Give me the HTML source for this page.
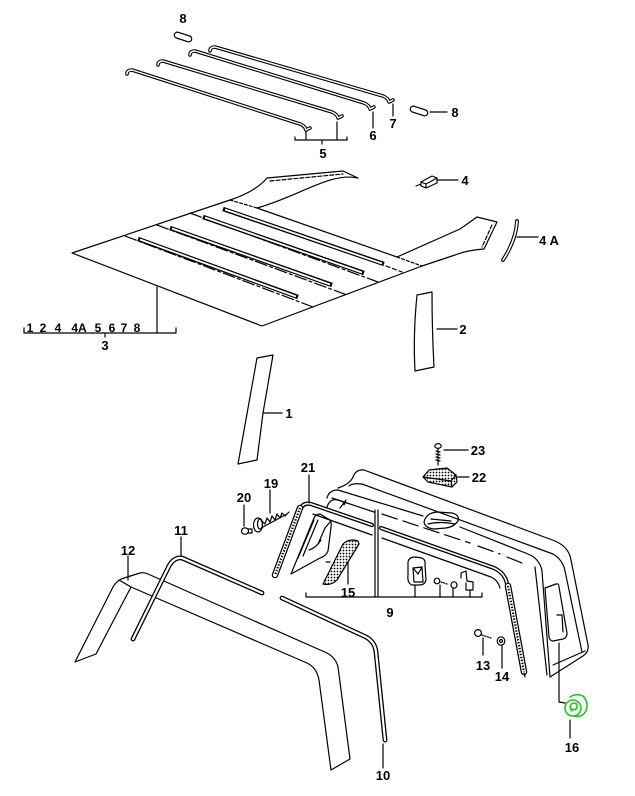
<!DOCTYPE html>
<html><head><meta charset="utf-8">
<style>
html,body{margin:0;padding:0;background:#fff;}
svg{display:block;}
text{font-family:"Liberation Sans",Arial,sans-serif;font-weight:bold;font-size:13px;fill:#000;}
.s{font-size:12px;}
</style></head><body>
<svg width="635" height="796" viewBox="0 0 635 796" xmlns="http://www.w3.org/2000/svg">
<defs>
<pattern id="dots" width="3" height="3" patternUnits="userSpaceOnUse">
<rect width="3" height="3" fill="#fff"/>
<circle cx="1.5" cy="1.5" r="0.9" fill="#000"/>
</pattern>
<path id="r7" d="M210,51 Q210,47 215,47 L383,96 Q388,98 389,102 L393,100"/>
<path id="r6" d="M190,55 Q190,51 195,51 L364,103 Q369,105 370,109 L374,107"/>
<path id="r5a" d="M158,65 Q158,61 163,61 L332,112 Q337,114 338,118 L342,116"/>
<path id="r5b" d="M127,74 Q127,70 132,70 L300,124 Q305,126 306,130 L310,128"/>
<path id="seal" d="M300,510 Q303,502 311,504 L372,525 M381,528 L494,568 Q505,573 507,584"/>
<path id="p11" d="M133,639 L169,566 Q174,557 182,558 L262,593"/>
<path id="p10" d="M282,598 L366,637 Q375,642 376,652 L385,740"/>
<path id="p4a" d="M517,221 Q516,240 503,260"/>
</defs>
<g fill="none" stroke="#000" stroke-width="1.2" stroke-linejoin="round" stroke-linecap="round">

<!-- pins 8 -->
<rect x="174" y="34" width="18" height="6" rx="3" transform="rotate(18 183 37)"/>
<rect x="410" y="108" width="18" height="6" rx="3" transform="rotate(18 419 111)"/>

<!-- rods -->
<g stroke-width="3.6">
<use href="#r7"/><use href="#r6"/><use href="#r5a"/><use href="#r5b"/>
</g>
<g stroke="#fff" stroke-width="1.4">
<use href="#r7"/><use href="#r6"/><use href="#r5a"/><use href="#r5b"/>
</g>

<!-- leaders top -->
<path d="M393,104 L393,116"/>
<path d="M373,112 L373,128"/>
<path d="M295,137 L295,140 L347,140 L347,137 M306,132 L306,140 M337,122 L337,140 M322,140 L322,144"/>
<path d="M430,112 L447,112"/>

<!-- headliner 3 -->
<path d="M72,253 L230,200 Q255,192 267,178 L343,171 L358,178 C330,172 300,196 257,208 L397,257 L460,229 Q470,222 477,217 L497,222 L484,249 Q468,250 455,255 L422,266 L262,326 Z"/>
<path d="M270,181 L343,174" stroke-dasharray="4 2"/>
<path d="M492,225 L482,247" stroke-dasharray="4 2"/>
<path d="M230,200 L257,208 M397,257 L422,266" stroke-dasharray="3 2"/>
<g stroke-dasharray="12 3 3 3">
<path d="M125,236 L313,307"/>
<path d="M157,225 L347,295"/>
<path d="M190,213 L378,282"/>
</g>
<path d="M386,266 L402,272" stroke-dasharray="4 3"/>
<!-- ribs -->
<g stroke-width="4.4" stroke-linecap="butt">
<path d="M138,239 L298,297"/>
<path d="M170,228 L332,285"/>
<path d="M203,217 L364,273"/>
<path d="M223,209 L384,264"/>
</g>
<g stroke="#fff" stroke-width="1.8" stroke-linecap="butt">
<path d="M140,239.5 L296,296.5"/>
<path d="M172,228.5 L330,284.5"/>
<path d="M205,217.5 L362,272.5"/>
<path d="M225,209.5 L382,263.5"/>
</g>
<!-- leader 3 -->
<path d="M157,287 L157,333 M24,328 L24,333 L176,333 L176,328 M105,333 L105,337"/>

<!-- part 4 -->
<path d="M421,182 L432,176 L437,178 L437,183 L426,188 L421,186 Z M421,182 L426,184 L437,178 M426,184 L426,188 M421,184 L416,186"/>
<path d="M438,180 L458,180"/>
<!-- part 4A -->
<use href="#p4a" stroke-width="3.8"/>
<use href="#p4a" stroke="#fff" stroke-width="1.6"/>
<path d="M517,237 L538,237"/>

<!-- part 2 -->
<path d="M417,295 L432,292 Q432,330 434,367 L415,371 Q413,335 417,295 Z"/>
<path d="M437,329 L457,329"/>

<!-- part 1 -->
<path d="M257,358 L273,355 L263,413 L257,460 L238,464 Z"/>
<path d="M263,413 L282,413"/>

<!-- part 23 screw -->
<ellipse cx="438" cy="446" rx="3.2" ry="2.4"/>
<path d="M438,449 L438,465 M436,451 L440,452 M436,454 L440,455 M436,457 L440,458 M436,460 L440,461"/>
<path d="M444,450 L468,450"/>
<!-- part 22 -->
<path d="M423,477 L429,470 L447,468 L456,475 L457,482 L452,487 L428,482 Z" fill="url(#dots)"/>
<path d="M423,477 L451,481 L456,475 M451,481 L452,487"/>
<path d="M457,477 L469,477"/>

<!-- part 19 screw -->
<ellipse cx="258" cy="525" rx="4.5" ry="7"/>
<ellipse cx="260" cy="524" rx="2.5" ry="5"/>
<path d="M262,521 L265,524 L267,518 L270,522 L272,516 L275,520 L277,514 L280,518 L282,513 L285,516 L289,512"/>
<path d="M263,527 L287,514"/>
<path d="M270,490 L270,513"/>
<!-- part 20 -->
<ellipse cx="245" cy="531" rx="3.5" ry="3.2"/>
<path d="M248,529 L252,529 L252,533 L248,533"/>
<path d="M244,505 L244,526"/>

<!-- shell (part 9) -->
<path d="M338,488 Q350,484 353,477 Q356,469 364,470 L555,541 Q569,547 571,560 L588,645 Q589,652 583,656 L550,677"/>
<path d="M349,486 Q352,483 362,484 L553,554 Q563,560 565,571 L582,652"/>
<path d="M553,665 L585,651"/>
<path d="M327,498 Q329,490 338,490 L423,516 M460,527 L528,554 Q540,559 542,571 L550,677"/>
<path d="M535,567 L547,675"/>
<path d="M382,514 L470,543 M478,546 L500,554 M507,557 L522,563" stroke-dasharray="16 6"/>
<path d="M332,498 L374,512"/>
<path d="M327,507 Q330,498 338,500 L346,503 M340,508 L346,500 L344,505"/>
<!-- handle -->
<path d="M424,522 Q426,513 437,512 L452,513 Q460,515 458,521 Q454,527 446,528 L434,529 Q425,528 424,522 Z"/>
<path d="M431,519 L451,521 M428,524 Q440,521 455,524"/>
<!-- right end window -->
<path d="M545,588 L556,584 Q559,583 559,587 L567,633 Q567,638 563,639 L553,641 Q550,641 549,637 Z"/>
<path d="M557,615 L562,615 L563,632"/>

<!-- seal 21 top -->
<use href="#seal" stroke-width="4.2"/>
<use href="#seal" stroke="#fff" stroke-width="1.6"/>
<path d="M313,514 L372,535 M382,538 L491,577 Q498,580 500,588"/>
<!-- beaded strips -->
<path d="M300,508 L275,575" stroke-width="6.5"/>
<path d="M300,508 L275,575" stroke="#fff" stroke-width="4"/>
<path d="M300,508 L275,575" stroke-width="2.2" stroke-dasharray="1.4 1.6" stroke-linecap="butt"/>
<path d="M508,586 L524,672" stroke-width="6.5"/>
<path d="M508,586 L524,672" stroke="#fff" stroke-width="4"/>
<path d="M508,586 L524,672" stroke-width="2.2" stroke-dasharray="1.4 1.6" stroke-linecap="butt"/>
<path d="M524,673 L525,677"/>

<!-- quarter window -->
<path d="M291,574 L314,518 Q316,514 320,514 L330,520 Q332,523 331,527 L328,551 Q326,556 320,558 Z"/>
<path d="M298,558 L314,520 M303,556 L318,520 M318,544 L325,528 L330,522 M309,550 Q316,548 321,540"/>

<!-- part 15 -->
<path d="M323,584 L343,544 Q349,538 358,541 L359,544 L337,580 Q331,586 323,584 Z" fill="url(#dots)"/>
<path d="M326,562 L330,562"/>
<path d="M348,562 L348,584"/>

<!-- small parts under 9 -->
<path d="M408,562 Q409,557 415,557 L422,558 Q426,560 425,565 L426,580 Q425,585 419,585 L412,585 Q407,583 408,575 Z"/>
<path d="M413,568 L422,567 L423,582 L414,582 Z M413,568 L418,574 L422,567"/>
<circle cx="437" cy="581" r="2.8"/>
<path d="M441,582 L447,584" stroke-dasharray="1.2 1.5"/>
<ellipse cx="454" cy="585" rx="3" ry="3.2"/>
<path d="M461,578 L461,573 L466,571 L467,581 L473,582 L473,590 L466,590 L466,583"/>
<!-- leader 9 -->
<path d="M306,593 L306,597 L482,597 L482,593"/>
<path d="M375,510 L375,597 M378,510 L378,597 M415,586 L415,597 M440,585 L440,597 M453,589 L453,597 M470,591 L470,597"/>

<!-- 21 leader -->
<path d="M309,475 L309,503"/>

<!-- 13 / 14 -->
<circle cx="478" cy="633" r="3.4"/>
<path d="M482,635 L491,638" stroke-dasharray="1.3 1.5"/>
<path d="M483,638 L483,655"/>
<ellipse cx="501" cy="641" rx="3.8" ry="4.2"/>
<circle cx="501" cy="641" r="1.5"/>
<path d="M502,646 L502,668"/>

<!-- 16 -->
<path d="M559,643 L559,702 L565,703"/>
<g stroke="#1ec81e" stroke-width="1.6">
<path d="M570,697 Q576,693 583,696 Q589,702 586,711 Q582,718 574,716"/>
<circle cx="573" cy="708" r="8"/>
<path d="M572,711 Q568,706 573,703 Q578,703 577,708 Q575,711 572,709"/>
</g>
<path d="M570,720 L570,738"/>

<!-- part 12 -->
<path d="M75,662 L113,587 Q117,580 124,578 L140,573 Q144,572 148,574 L327,653 Q336,658 338,667 L350,759 L331,770 L319,680 Q317,668 307,663 L131,587 L96,654 Z"/>
<path d="M119,580 L131,587"/>
<path d="M128,556 L128,580"/>

<!-- part 11 -->
<use href="#p11" stroke-width="4.8"/>
<use href="#p11" stroke="#fff" stroke-width="2.2"/>
<path d="M181,537 L181,556"/>

<!-- part 10 -->
<use href="#p10" stroke-width="4.8"/>
<use href="#p10" stroke="#fff" stroke-width="2.2"/>
<path d="M383,744 L383,768"/>
</g>

<g text-anchor="middle">
<text x="183" y="23">8</text>
<text x="393" y="128">7</text>
<text x="373" y="140">6</text>
<text x="323" y="158">5</text>
<text x="455" y="117">8</text>
<text x="465" y="185">4</text>
<text x="549" y="245">4 A</text>
<text x="463" y="334">2</text>
<text class="s" x="30" y="332">1</text>
<text class="s" x="43" y="332">2</text>
<text class="s" x="58" y="332">4</text>
<text class="s" x="79" y="332">4A</text>
<text class="s" x="98" y="332">5</text>
<text class="s" x="112" y="332">6</text>
<text class="s" x="124" y="332">7</text>
<text class="s" x="137" y="332">8</text>
<text x="105" y="350">3</text>
<text x="289" y="418">1</text>
<text x="478" y="455">23</text>
<text x="479" y="482">22</text>
<text x="308" y="472">21</text>
<text x="271" y="488">19</text>
<text x="244" y="502">20</text>
<text x="348" y="597">15</text>
<text x="390" y="617">9</text>
<text x="483" y="670">13</text>
<text x="502" y="681">14</text>
<text x="572" y="752">16</text>
<text x="128" y="555">12</text>
<text x="181" y="535">11</text>
<text x="383" y="780">10</text>
</g>
</svg>
</body></html>
